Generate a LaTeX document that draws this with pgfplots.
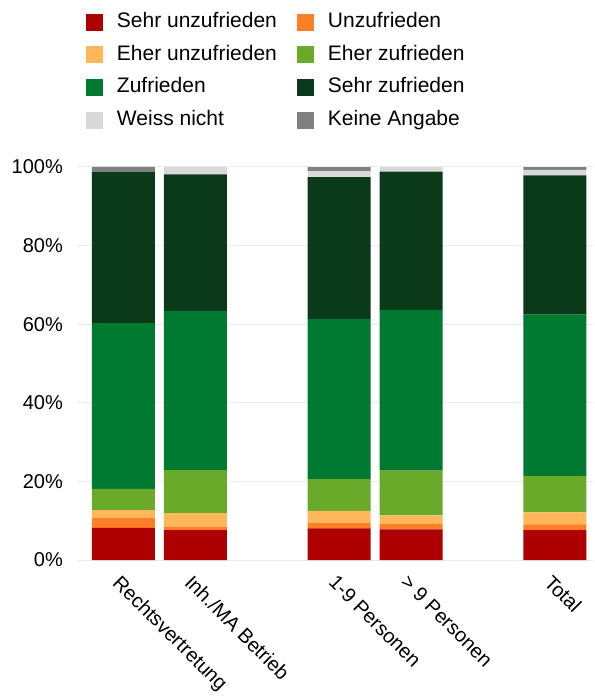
\documentclass[border=0pt]{standalone}
\usepackage{fontspec}
\setmainfont{Liberation Sans}
\usepackage{pgfplots}
\pgfplotsset{compat=1.18}
\definecolor{cSU}{HTML}{AE0000}
\definecolor{cU}{HTML}{FF7F27}
\definecolor{cEU}{HTML}{FFB75A}
\definecolor{cEZ}{HTML}{6AAA2A}
\definecolor{cZ}{HTML}{007A30}
\definecolor{cSZ}{HTML}{0A3A1A}
\definecolor{cWN}{HTML}{D9D9D9}
\definecolor{cKA}{HTML}{808080}
\definecolor{cGrid}{HTML}{EBEBEB}
\begin{document}
\begin{tikzpicture}
\useasboundingbox (-77pt,-137pt) rectangle (518pt,560pt);
\begin{axis}[
  scale only axis,
  width=516pt, height=393pt,
  ybar stacked, bar width=63pt,
  xmin=-0.646, xmax=6.53,
  ymin=0, ymax=100,
  axis line style={draw=none},
  ymajorgrids, grid style={cGrid, line width=1pt},
  ytick={0,20,40,60,80,100},
  yticklabels={0\%,20\%,40\%,60\%,80\%,100\%},
  xtick={0,1,3,4,6},
  xticklabels={Rechtsvertretung,Inh./MA Betrieb,1-9 Personen,> 9 Personen,Total},
  tick style={draw=none},
  every tick label/.append style={font=\fontsize{20}{24}\selectfont},
  yticklabel style={anchor=east, inner sep=0pt, xshift=-14pt},
  xticklabel style={rotate=-45, anchor=north west, inner sep=0pt, xshift=8.5pt, yshift=-10.6pt},
  legend columns=2,
  legend style={at={(axis description cs:0.0174,1.393)}, anchor=north west,
    draw=none, fill=none, inner sep=0pt, outer sep=0pt,
    font=\fontsize{21}{25}\selectfont,
    column sep=14pt, row sep=13.7pt,
    /tikz/every even column/.append style={column sep=20pt},
    nodes={inner sep=0pt, text height=15pt, text depth=4pt}},
  legend cell align=left,
  legend image code/.code={\fill[#1] (0pt,-8.5pt) rectangle (17pt,8.5pt);},
]
\addplot+[fill=cSU, draw=none] coordinates {(0,8.2) (1,7.6) (3,8.05) (4,7.8) (6,7.6)};
\addlegendentry{Sehr unzufrieden}
\addplot+[fill=cU, draw=none] coordinates {(0,2.6) (1,0.9) (3,1.45) (4,1.35) (6,1.45)};
\addlegendentry{Unzufrieden}
\addplot+[fill=cEU, draw=none] coordinates {(0,1.9) (1,3.4) (3,3.0) (4,2.2) (6,3.1)};
\addlegendentry{Eher unzufrieden}
\addplot+[fill=cEZ, draw=none] coordinates {(0,5.4) (1,11.0) (3,8.05) (4,11.4) (6,9.2)};
\addlegendentry{Eher zufrieden}
\addplot+[fill=cZ, draw=none] coordinates {(0,42.2) (1,40.5) (3,40.8) (4,40.9) (6,41.1)};
\addlegendentry{Zufrieden}
\addplot+[fill=cSZ, draw=none] coordinates {(0,38.4) (1,34.7) (3,36.1) (4,35.2) (6,35.4)};
\addlegendentry{Sehr zufrieden}
\addplot+[fill=cWN, draw=none] coordinates {(0,0) (1,1.9) (3,1.5) (4,1.1) (6,1.4)};
\addlegendentry{Weiss nicht}
\addplot+[fill=cKA, draw=none] coordinates {(0,1.3) (1,0) (3,1.0) (4,0) (6,0.7)};
\addlegendentry{Keine Angabe}
\end{axis}
\end{tikzpicture}
\end{document}
